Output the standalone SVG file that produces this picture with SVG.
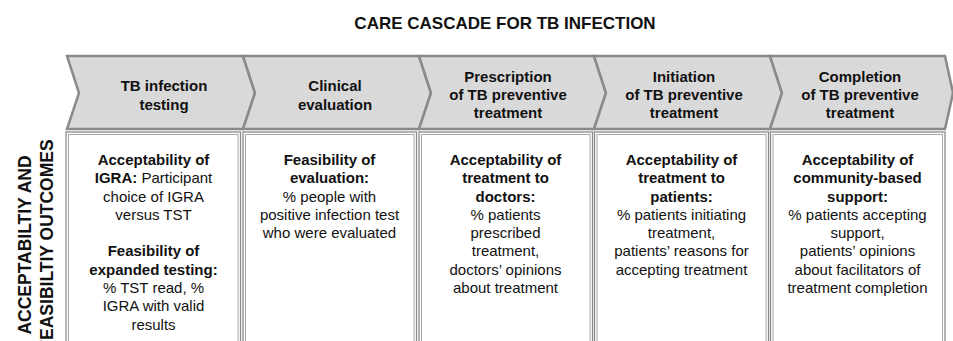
<svg xmlns="http://www.w3.org/2000/svg" width="953" height="341" viewBox="0 0 953 341">
<style>
.chev{fill:#d9d9d9;stroke:#8a8a8a;stroke-width:2.5;stroke-linejoin:miter}
.bo{fill:#fff;stroke:#8a8a8a;stroke-width:1.3}
.bi{fill:none;stroke:#a6a6a6;stroke-width:1}
text{font-family:"Liberation Sans",Arial,sans-serif;fill:#111;text-anchor:middle}
.h{font-size:15px;font-weight:bold}
.t{font-size:15px}
.b{font-weight:bold}
.title{font-size:17px;font-weight:bold}
.side{font-size:17.5px;font-weight:bold}
</style>
<rect width="953" height="341" fill="#fff"/>
<text class="title" x="505" y="28.5">CARE CASCADE FOR TB INFECTION</text>
<g id="side-label">
<text class="side" transform="translate(30.5,245) rotate(-90)">ACCEPTABILTIY AND</text>
<text class="side" transform="translate(53,245) rotate(-90)">FEASIBILTIY OUTCOMES</text>
</g>
<g id="connectors"></g>
<g id="stage1">
<path class="chev" d="M67,56 L243,56 L255,93 L243,129 L67,129 L79,93 Z"/>
<text class="h" x="164" y="91">TB infection</text>
<text class="h" x="164" y="110">testing</text>
</g>
<g id="stage2">
<path class="chev" d="M243,56 L419,56 L431,93 L419,129 L243,129 L255,93 Z"/>
<text class="h" x="335" y="91">Clinical</text>
<text class="h" x="335" y="110">evaluation</text>
</g>
<g id="stage3">
<path class="chev" d="M419,56 L594,56 L606,93 L594,129 L419,129 L431,93 Z"/>
<text class="h" x="508" y="82">Prescription</text>
<text class="h" x="508" y="100">of TB preventive</text>
<text class="h" x="508" y="118">treatment</text>
</g>
<g id="stage4">
<path class="chev" d="M594,56 L770,56 L782,93 L770,129 L594,129 L606,93 Z"/>
<text class="h" x="684" y="82">Initiation</text>
<text class="h" x="684" y="100">of TB preventive</text>
<text class="h" x="684" y="118">treatment</text>
</g>
<g id="stage5">
<path class="chev" d="M770,56 L945,56 L953,93 L945,129 L770,129 L782,93 Z"/>
<text class="h" x="860" y="82">Completion</text>
<text class="h" x="860" y="100">of TB preventive</text>
<text class="h" x="860" y="118">treatment</text>
</g>
<g id="box1">
<rect class="bo" x="66" y="132" width="174.5" height="220"/>
<rect class="bi" x="68.5" y="134.5" width="169.5" height="220"/>
<text class="t" x="153.5" y="165"><tspan class="b">Acceptability of</tspan></text>
<text class="t" x="153.5" y="183.3"><tspan class="b">IGRA:</tspan> Participant</text>
<text class="t" x="153.5" y="201.6">choice of IGRA</text>
<text class="t" x="153.5" y="219.9">versus TST</text>
<text class="t" x="153.5" y="256.4"><tspan class="b">Feasibility of</tspan></text>
<text class="t" x="153.5" y="274.6"><tspan class="b">expanded testing:</tspan></text>
<text class="t" x="153.5" y="292.9">% TST read, %</text>
<text class="t" x="153.5" y="311.2">IGRA with valid</text>
<text class="t" x="153.5" y="329.5">results</text>
</g>
<g id="box2">
<rect class="bo" x="243" y="132" width="173.5" height="220"/>
<rect class="bi" x="245.5" y="134.5" width="168.5" height="220"/>
<text class="t" x="329.5" y="165"><tspan class="b">Feasibility of</tspan></text>
<text class="t" x="329.5" y="183.3"><tspan class="b">evaluation:</tspan></text>
<text class="t" x="329.5" y="201.6">% people with</text>
<text class="t" x="329.5" y="219.9">positive infection test</text>
<text class="t" x="329.5" y="238.1">who were evaluated</text>
</g>
<g id="box3">
<rect class="bo" x="419" y="132" width="173.5" height="220"/>
<rect class="bi" x="421.5" y="134.5" width="168.5" height="220"/>
<text class="t" x="505.5" y="165"><tspan class="b">Acceptability of</tspan></text>
<text class="t" x="505.5" y="183.3"><tspan class="b">treatment to</tspan></text>
<text class="t" x="505.5" y="201.6"><tspan class="b">doctors:</tspan></text>
<text class="t" x="505.5" y="219.9">% patients</text>
<text class="t" x="505.5" y="238.1">prescribed</text>
<text class="t" x="505.5" y="256.4">treatment,</text>
<text class="t" x="505.5" y="274.6">doctors’ opinions</text>
<text class="t" x="505.5" y="292.9">about treatment</text>
</g>
<g id="box4">
<rect class="bo" x="594.5" y="132" width="174" height="220"/>
<rect class="bi" x="597" y="134.5" width="169" height="220"/>
<text class="t" x="681.5" y="165"><tspan class="b">Acceptability of</tspan></text>
<text class="t" x="681.5" y="183.3"><tspan class="b">treatment to</tspan></text>
<text class="t" x="681.5" y="201.6"><tspan class="b">patients:</tspan></text>
<text class="t" x="681.5" y="219.9">% patients initiating</text>
<text class="t" x="681.5" y="238.1">treatment,</text>
<text class="t" x="681.5" y="256.4">patients’ reasons for</text>
<text class="t" x="681.5" y="274.6">accepting treatment</text>
</g>
<g id="box5">
<rect class="bo" x="770.5" y="132" width="174.5" height="220"/>
<rect class="bi" x="773" y="134.5" width="169.5" height="220"/>
<text class="t" x="857.5" y="165"><tspan class="b">Acceptability of</tspan></text>
<text class="t" x="857.5" y="183.3"><tspan class="b">community-based</tspan></text>
<text class="t" x="857.5" y="201.6"><tspan class="b">support:</tspan></text>
<text class="t" x="857.5" y="219.9">% patients accepting</text>
<text class="t" x="857.5" y="238.1">support,</text>
<text class="t" x="857.5" y="256.4">patients’ opinions</text>
<text class="t" x="857.5" y="274.6">about facilitators of</text>
<text class="t" x="857.5" y="292.9">treatment completion</text>
</g>
</svg>
